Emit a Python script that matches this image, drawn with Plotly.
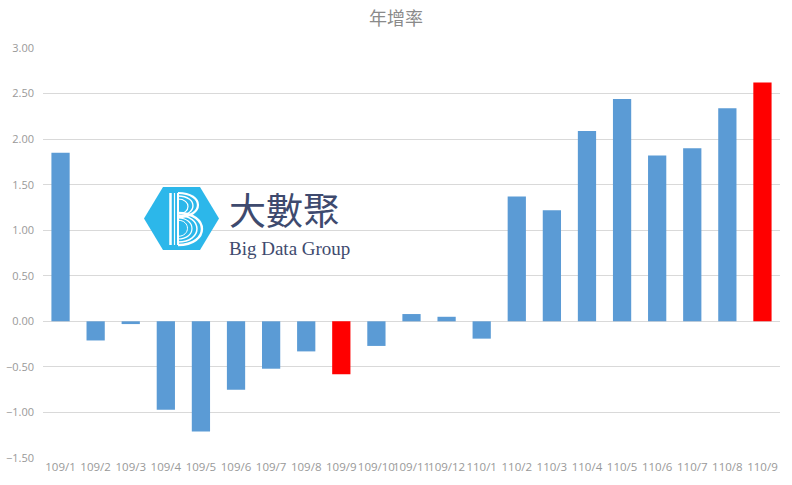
import plotly.graph_objects as go

categories = ["109/1", "109/2", "109/3", "109/4", "109/5", "109/6", "109/7", "109/8", "109/9",
              "109/10", "109/11", "109/12", "110/1", "110/2", "110/3", "110/4", "110/5", "110/6",
              "110/7", "110/8", "110/9"]
values = [1.85, -0.21, -0.03, -0.97, -1.21, -0.75, -0.52, -0.33, -0.58,
          -0.27, 0.08, 0.05, -0.19, 1.37, 1.22, 2.09, 2.44, 1.82,
          1.90, 2.34, 2.62]
highlight = ["109/9", "110/9"]
tick_vals = [-1.5, -1.0, -0.5, 0.0, 0.5, 1.0, 1.5, 2.0, 2.5, 3.0]

BLUE = "#5b9bd5"
RED = "#ff0000"
colors = [RED if c in highlight else BLUE for c in categories]

W, H = 792, 485
ML, MR, MT, MB = 43, 12, 48, 27
PW, PH = W - ML - MR, H - MT - MB


def px(x):
    return (x - ML) / PW


def py(y):
    return (H - MB - y) / PH


def pt(x, y):
    return f"{px(x):.5f},{py(y):.5f}"


fig = go.Figure()
fig.add_trace(go.Bar(x=categories, y=values, marker=dict(color=colors, line=dict(width=0)),
                     width=0.52))

# ---- watermark logo (decoration) ----
hexagon = [(163, 187), (200, 187), (219, 218.5), (200, 250), (163, 250), (144, 218.5)]
path = "M " + " L ".join(pt(x, y) for x, y in hexagon) + " Z"
fig.add_shape(type="path", xref="paper", yref="paper", layer="above", path=path,
              fillcolor="#2cb7ea", line=dict(width=0))

# stylised "B": vertical strokes
for x, w in [(170.5, 2.5), (174.5, 1.2), (178, 2.0)]:
    fig.add_shape(type="line", xref="paper", yref="paper", layer="above",
                  x0=px(x), x1=px(x), y0=py(193), y1=py(245),
                  line=dict(color="white", width=w))


def bowl(x0, y0, y1, xr):
    k = (xr - x0) * 1.33
    return (f"M {pt(x0, y0)} C {pt(x0 + k, y0)} {pt(x0 + k, y1)} {pt(x0, y1)}")


for xr, w in [(198, 2.2), (193, 1.4), (188, 1.2)]:
    fig.add_shape(type="path", xref="paper", yref="paper", layer="above",
                  path=bowl(178, 193 + (198 - xr) * 0.6, 217 - (198 - xr) * 0.3, xr),
                  line=dict(color="white", width=w))
for xr, w in [(202, 2.4), (197, 1.5), (192, 1.2), (187.5, 1.0)]:
    fig.add_shape(type="path", xref="paper", yref="paper", layer="above",
                  path=bowl(178, 213 + (202 - xr) * 0.5, 245 - (202 - xr) * 0.6, xr),
                  line=dict(color="white", width=w))

fig.add_annotation(xref="paper", yref="paper", x=px(227), y=py(209), text="大數聚", showarrow=False,
                   font=dict(family="Noto Sans CJK TC", size=37, color="#3e4a6e"),
                   xanchor="left", yanchor="middle")
fig.add_annotation(xref="paper", yref="paper", x=px(227), y=py(248), text="Big Data Group", showarrow=False,
                   font=dict(family="Liberation Serif", size=19, color="#3e4a6e"),
                   xanchor="left", yanchor="middle")

fig.update_layout(
    width=W, height=H,
    margin=dict(l=ML, r=MR, t=MT, b=MB, autoexpand=False),
    paper_bgcolor="white", plot_bgcolor="white",
    title=dict(text="年增率", x=0.5, xanchor="center", y=0.962, yanchor="middle",
               font=dict(family="Noto Sans CJK TC", size=18, color="#8a8a8a")),
    showlegend=False,
    bargap=0.48,
    font=dict(family="Open Sans", size=11, color="#9a9a9a"),
)
fig.update_xaxes(type="category", tickangle=0, showgrid=False, showline=False, ticks="",
                 automargin=False,
                 tickfont=dict(family="Open Sans", size=11.5, color="#999999"))
fig.update_yaxes(range=[-1.5, 3.0], tickvals=tick_vals, tickformat=".2f", showgrid=True,
                 gridcolor="#d9d9d9", gridwidth=1, zeroline=True, zerolinecolor="#d9d9d9",
                 zerolinewidth=1, showline=False, ticks="", ticklabelstandoff=8, automargin=False,
                 tickfont=dict(family="Open Sans", size=11, color="#999999"))

fig.write_html("out.html", config={"displayModeBar": False},
               post_script="document.body.style.margin='0px';")
